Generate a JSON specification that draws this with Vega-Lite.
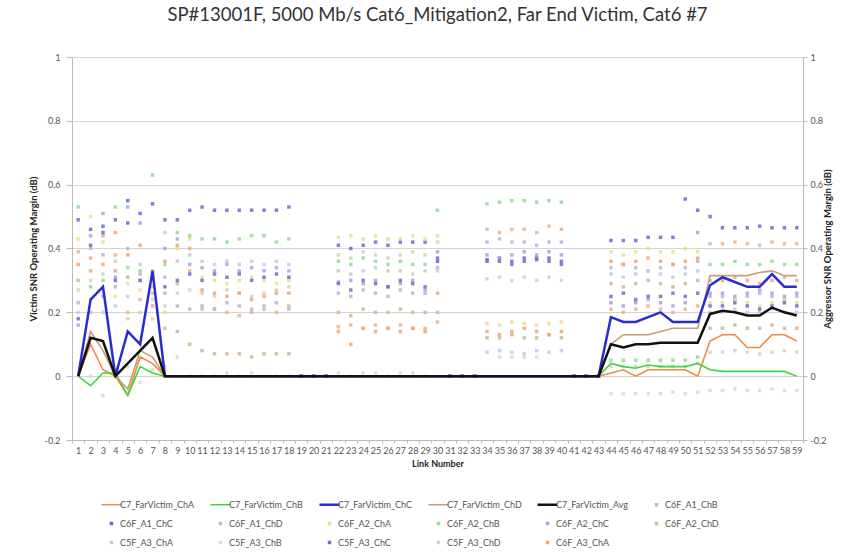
{
  "$schema": "https://vega.github.io/schema/vega-lite/v6.json",
  "width": 731,
  "height": 383,
  "autosize": {"type": "none"},
  "padding": {"left": 72, "top": 57, "right": 43, "bottom": 113},
  "background": "white",
  "config": {"view": {"stroke": null}},
  "title": {"text": "SP#13001F, 5000 Mb/s Cat6_Mitigation2, Far End Victim, Cat6 #7", "font": "Lato", "fontSize": 18.5, "fontWeight": "normal", "color": "#333333", "anchor": "middle", "frame": "group", "offset": 29},
  "data": {"values": [
      {"x":1,"A":0,"B":0,"C":0,"D":0,"G":0,"p1":0.23,"p2":0.49,"p3":0.30,"p4":0.43,"p5":0.53,"p6":0.16,"p7":0.39,"p8":0.20,"p10":0.18,"p11":0.27,"p12":0.35},
      {"x":2,"A":0.10,"B":-0.03,"C":0.24,"D":0.14,"G":0.12,"p1":0.40,"p2":0.46,"p3":0.33,"p4":0.50,"p5":0.28,"p6":0.44,"p7":0.20,"p8":0.24,"p9":0,"p10":0.41,"p11":0.30,"p12":0.37},
      {"x":3,"A":0.02,"B":0.01,"C":0.28,"D":0.08,"G":0.11,"p1":0.38,"p2":0.47,"p3":0.25,"p4":0.42,"p5":0.30,"p6":0.51,"p7":0.44,"p8":0.20,"p9":-0.06,"p10":0.45,"p11":0.32,"p12":0.35},
      {"x":4,"A":0,"B":0.01,"C":0,"D":0,"G":0,"p1":0.28,"p2":0.49,"p3":0.33,"p4":0.25,"p5":0.53,"p6":0.31,"p7":0.38,"p8":0.22,"p9":0.02,"p10":0.30,"p11":0.36,"p12":0.45},
      {"x":5,"A":-0.06,"B":-0.06,"C":0.14,"D":-0.04,"G":0.04,"p1":0.40,"p2":0.55,"p3":0.31,"p4":0.29,"p5":0.34,"p6":0.53,"p7":0.20,"p8":0.25,"p9":0.03,"p10":0.48,"p11":0.18,"p12":0.38},
      {"x":6,"A":0.06,"B":0.03,"C":0.10,"D":0.08,"G":0.08,"p1":0.32,"p2":0.51,"p3":0.30,"p4":0.27,"p5":0.33,"p6":0.48,"p7":0.24,"p8":0.35,"p9":-0.02,"p10":0.30,"p11":0.20,"p12":0.41},
      {"x":7,"A":0.04,"B":0.01,"C":0.33,"D":0.06,"G":0.12,"p1":0.30,"p2":0.54,"p3":0.33,"p4":0.18,"p5":0.63,"p6":0.31,"p7":0.26,"p8":0.28,"p9":0.02,"p10":0.32,"p11":0.24,"p12":0.22},
      {"x":8,"A":0,"B":0,"C":0,"D":0,"G":0,"p1":0.31,"p2":0.49,"p3":0.26,"p4":0.20,"p5":0.35,"p6":0.40,"p7":0.15,"p8":0.45,"p9":0.03,"p10":0.28,"p11":0.22,"p12":0.36},
      {"x":9,"A":0,"B":0,"C":0,"D":0,"G":0,"p1":0.22,"p2":0.49,"p3":0.14,"p4":0.40,"p5":0.45,"p6":0.43,"p7":0.29,"p8":0.36,"p9":0.06,"p10":0.30,"p11":0.26,"p12":0.41},
      {"x":10,"A":0,"B":0,"C":0,"D":0,"G":0,"p1":0.21,"p2":0.52,"p3":0.10,"p4":0.43,"p5":0.44,"p6":0.35,"p7":0.33,"p8":0.38,"p9":0,"p10":0.32,"p11":0.27,"p12":0.40},
      {"x":11,"A":0,"B":0,"C":0,"D":0,"G":0,"p1":0.22,"p2":0.53,"p3":0.08,"p4":0.31,"p5":0.43,"p6":0.34,"p7":0.21,"p8":0.36,"p9":0,"p10":0.30,"p11":0.26,"p12":0.27},
      {"x":12,"A":0,"B":0,"C":0,"D":0,"G":0,"p1":0.21,"p2":0.52,"p3":0.07,"p4":0.30,"p5":0.43,"p6":0.33,"p7":0.21,"p8":0.35,"p9":0,"p10":0.32,"p11":0.25,"p12":0.26},
      {"x":13,"A":0,"B":0,"C":0,"D":0,"G":0,"p1":0.23,"p2":0.52,"p3":0.07,"p4":0.29,"p5":0.42,"p6":0.35,"p7":0.20,"p8":0.36,"p9":0.01,"p10":0.31,"p11":0.27,"p12":0.25},
      {"x":14,"A":0,"B":0,"C":0,"D":0,"G":0,"p1":0.22,"p2":0.52,"p3":0.07,"p4":0.30,"p5":0.43,"p6":0.33,"p7":0.19,"p8":0.35,"p9":0,"p10":0.32,"p11":0.26,"p12":0.26},
      {"x":15,"A":0,"B":0,"C":0,"D":0,"G":0,"p1":0.21,"p2":0.52,"p3":0.06,"p4":0.31,"p5":0.44,"p6":0.34,"p7":0.20,"p8":0.36,"p9":0.01,"p10":0.30,"p11":0.25,"p12":0.24},
      {"x":16,"A":0,"B":0,"C":0,"D":0,"G":0,"p1":0.22,"p2":0.52,"p3":0.07,"p4":0.30,"p5":0.44,"p6":0.33,"p7":0.21,"p8":0.35,"p9":0,"p10":0.31,"p11":0.26,"p12":0.25},
      {"x":17,"A":0,"B":0,"C":0,"D":0,"G":0,"p1":0.23,"p2":0.52,"p3":0.07,"p4":0.29,"p5":0.42,"p6":0.34,"p7":0.20,"p8":0.36,"p9":0,"p10":0.32,"p11":0.27,"p12":0.26},
      {"x":18,"A":0,"B":0,"C":0,"D":0,"G":0,"p1":0.21,"p2":0.53,"p3":0.07,"p4":0.30,"p5":0.43,"p6":0.33,"p7":0.22,"p8":0.35,"p9":0,"p10":0.31,"p11":0.28,"p12":0.26},
      {"x":19,"A":0,"B":0,"C":0,"D":0,"G":0,"p1":0,"p2":0,"p3":0,"p6":0,"p10":0},
      {"x":20,"A":0,"B":0,"C":0,"D":0,"G":0,"p1":0,"p2":0,"p3":0,"p6":0,"p10":0},
      {"x":21,"A":0,"B":0,"C":0,"D":0,"G":0,"p1":0,"p2":0,"p3":0,"p6":0,"p10":0},
      {"x":22,"A":0,"B":0,"C":0,"D":0,"G":0,"p1":0.26,"p2":0.41,"p3":0.20,"p4":0.435,"p5":0.36,"p6":0.295,"p7":0.155,"p8":0.33,"p9":0.01,"p10":0.29,"p11":0.38,"p12":0.14},
      {"x":23,"A":0,"B":0,"C":0,"D":0,"G":0,"p1":0.25,"p2":0.40,"p3":0.19,"p4":0.44,"p5":0.35,"p6":0.30,"p7":0.16,"p8":0.32,"p9":0,"p10":0.27,"p11":0.37,"p12":0.10},
      {"x":24,"A":0,"B":0,"C":0,"D":0,"G":0,"p1":0.27,"p2":0.41,"p3":0.21,"p4":0.43,"p5":0.37,"p6":0.29,"p7":0.15,"p8":0.33,"p9":0.01,"p10":0.30,"p11":0.39,"p12":0.15},
      {"x":25,"A":0,"B":0,"C":0,"D":0,"G":0,"p1":0.26,"p2":0.42,"p3":0.20,"p4":0.44,"p5":0.36,"p6":0.30,"p7":0.16,"p8":0.34,"p9":0.01,"p10":0.29,"p11":0.38,"p12":0.14},
      {"x":26,"A":0,"B":0,"C":0,"D":0,"G":0,"p1":0.25,"p2":0.41,"p3":0.20,"p4":0.43,"p5":0.35,"p6":0.28,"p7":0.15,"p8":0.33,"p9":0,"p10":0.28,"p11":0.37,"p12":0.15},
      {"x":27,"A":0,"B":0,"C":0,"D":0,"G":0,"p1":0.27,"p2":0.42,"p3":0.21,"p4":0.43,"p5":0.36,"p6":0.29,"p7":0.16,"p8":0.33,"p9":0.01,"p10":0.30,"p11":0.38,"p12":0.14},
      {"x":28,"A":0,"B":0,"C":0,"D":0,"G":0,"p1":0.26,"p2":0.42,"p3":0.20,"p4":0.44,"p5":0.35,"p6":0.30,"p7":0.15,"p8":0.32,"p9":0.01,"p10":0.29,"p11":0.39,"p12":0.15},
      {"x":29,"A":0,"B":0,"C":0,"D":0,"G":0,"p1":0.26,"p2":0.42,"p3":0.20,"p4":0.43,"p5":0.35,"p6":0.27,"p7":0.15,"p8":0.33,"p9":0,"p10":0.28,"p11":0.38,"p12":0.14},
      {"x":30,"A":0,"B":0,"C":0,"D":0,"G":0,"p1":0.34,"p2":0.36,"p3":0.20,"p4":0.44,"p5":0.52,"p6":0.39,"p7":0.17,"p8":0.33,"p10":0.37,"p11":0.42,"p12":0.26},
      {"x":31,"A":0,"B":0,"C":0,"D":0,"G":0,"p1":0,"p2":0,"p3":0,"p6":0,"p10":0},
      {"x":32,"A":0,"B":0,"C":0,"D":0,"G":0,"p1":0,"p2":0,"p3":0,"p6":0,"p10":0},
      {"x":33,"A":0,"B":0,"C":0,"D":0,"G":0,"p1":0,"p2":0,"p3":0,"p6":0,"p10":0},
      {"x":34,"A":0,"B":0,"C":0,"D":0,"G":0,"p1":0.42,"p2":0.365,"p3":0.12,"p4":0.165,"p5":0.54,"p6":0.38,"p7":0.46,"p8":0.075,"p10":0.36,"p11":0.305,"p12":0.14},
      {"x":35,"A":0,"B":0,"C":0,"D":0,"G":0,"p1":0.43,"p2":0.37,"p3":0.12,"p4":0.16,"p5":0.545,"p6":0.37,"p7":0.45,"p8":0.08,"p9":0.06,"p10":0.36,"p11":0.31,"p12":0.13},
      {"x":36,"A":0,"B":0,"C":0,"D":0,"G":0,"p1":0.42,"p2":0.36,"p3":0.13,"p4":0.17,"p5":0.55,"p6":0.38,"p7":0.46,"p8":0.075,"p9":0.06,"p10":0.35,"p11":0.30,"p12":0.14},
      {"x":37,"A":0,"B":0,"C":0,"D":0,"G":0,"p1":0.42,"p2":0.37,"p3":0.12,"p4":0.165,"p5":0.55,"p6":0.39,"p7":0.46,"p8":0.07,"p9":0.06,"p10":0.36,"p11":0.31,"p12":0.15},
      {"x":38,"A":0,"B":0,"C":0,"D":0,"G":0,"p1":0.41,"p2":0.365,"p3":0.12,"p4":0.16,"p5":0.545,"p6":0.38,"p7":0.45,"p8":0.08,"p9":0.06,"p10":0.37,"p11":0.30,"p12":0.14},
      {"x":39,"A":0,"B":0,"C":0,"D":0,"G":0,"p1":0.42,"p2":0.37,"p3":0.13,"p4":0.165,"p5":0.55,"p6":0.39,"p7":0.47,"p8":0.075,"p10":0.36,"p11":0.31,"p12":0.13},
      {"x":40,"A":0,"B":0,"C":0,"D":0,"G":0,"p1":0.42,"p2":0.36,"p3":0.12,"p4":0.17,"p5":0.545,"p6":0.38,"p7":0.46,"p8":0.08,"p10":0.35,"p11":0.30,"p12":0.14},
      {"x":41,"A":0,"B":0,"C":0,"D":0,"G":0,"p1":0,"p2":0,"p3":0,"p6":0,"p10":0},
      {"x":42,"A":0,"B":0,"C":0,"D":0,"G":0,"p1":0,"p2":0,"p3":0,"p6":0,"p10":0},
      {"x":43,"A":0,"B":0,"C":0,"D":0,"G":0,"p1":0,"p2":0,"p3":0,"p6":0,"p10":0},
      {"x":44,"A":0.01,"B":0.04,"C":0.185,"D":0.10,"G":0.10,"p1":0.34,"p2":0.425,"p3":0.29,"p4":0.39,"p5":0.05,"p6":0.23,"p7":0.21,"p8":0.32,"p9":-0.055,"p10":0.25,"p11":0.03,"p12":0.36},
      {"x":45,"A":0.02,"B":0.03,"C":0.17,"D":0.13,"G":0.09,"p1":0.35,"p2":0.425,"p3":0.28,"p4":0.38,"p5":0.05,"p6":0.22,"p7":0.20,"p8":0.31,"p9":-0.055,"p10":0.26,"p11":0.03,"p12":0.35},
      {"x":46,"A":0,"B":0.025,"C":0.17,"D":0.13,"G":0.10,"p1":0.34,"p2":0.425,"p3":0.29,"p4":0.39,"p5":0.05,"p6":0.23,"p7":0.21,"p8":0.32,"p9":-0.055,"p10":0.24,"p11":0.03,"p12":0.36},
      {"x":47,"A":0.02,"B":0.035,"C":0.185,"D":0.13,"G":0.10,"p1":0.33,"p2":0.435,"p3":0.30,"p4":0.40,"p5":0.05,"p6":0.24,"p7":0.22,"p8":0.33,"p9":-0.055,"p10":0.25,"p11":0.03,"p12":0.37},
      {"x":48,"A":0.02,"B":0.03,"C":0.20,"D":0.14,"G":0.105,"p1":0.34,"p2":0.435,"p3":0.29,"p4":0.39,"p5":0.05,"p6":0.23,"p7":0.21,"p8":0.32,"p9":-0.055,"p10":0.25,"p11":0.03,"p12":0.36},
      {"x":49,"A":0.02,"B":0.03,"C":0.17,"D":0.15,"G":0.105,"p1":0.35,"p2":0.435,"p3":0.28,"p4":0.39,"p5":0.05,"p6":0.22,"p7":0.20,"p8":0.31,"p9":-0.05,"p10":0.26,"p11":0.03,"p12":0.35},
      {"x":50,"A":0.02,"B":0.03,"C":0.17,"D":0.15,"G":0.105,"p1":0.34,"p2":0.555,"p3":0.29,"p4":0.40,"p5":0.05,"p6":0.23,"p7":0.21,"p8":0.32,"p9":-0.055,"p10":0.25,"p11":0.03,"p12":0.36},
      {"x":51,"A":0,"B":0.04,"C":0.17,"D":0.15,"G":0.105,"p1":0.36,"p2":0.52,"p3":0.30,"p4":0.39,"p5":0.06,"p6":0.45,"p7":0.22,"p8":0.33,"p9":-0.05,"p10":0.26,"p11":0.04,"p12":0.37},
      {"x":52,"A":0.11,"B":0.02,"C":0.285,"D":0.315,"G":0.195,"p1":0.25,"p2":0.50,"p3":0.15,"p4":0.23,"p5":0.35,"p6":0.26,"p7":0.415,"p8":0.20,"p9":-0.045,"p10":0.22,"p11":0.075,"p12":0.30},
      {"x":53,"A":0.13,"B":0.015,"C":0.31,"D":0.315,"G":0.205,"p1":0.25,"p2":0.465,"p3":0.15,"p4":0.23,"p5":0.35,"p6":0.26,"p7":0.415,"p8":0.20,"p9":-0.045,"p10":0.22,"p11":0.075,"p12":0.30},
      {"x":54,"A":0.13,"B":0.015,"C":0.295,"D":0.315,"G":0.20,"p1":0.24,"p2":0.465,"p3":0.16,"p4":0.24,"p5":0.36,"p6":0.25,"p7":0.42,"p8":0.21,"p9":-0.04,"p10":0.23,"p11":0.08,"p12":0.31},
      {"x":55,"A":0.09,"B":0.015,"C":0.28,"D":0.315,"G":0.19,"p1":0.25,"p2":0.465,"p3":0.15,"p4":0.23,"p5":0.35,"p6":0.26,"p7":0.415,"p8":0.20,"p9":-0.045,"p10":0.22,"p11":0.075,"p12":0.30},
      {"x":56,"A":0.09,"B":0.015,"C":0.28,"D":0.325,"G":0.19,"p1":0.26,"p2":0.47,"p3":0.15,"p4":0.22,"p5":0.35,"p6":0.27,"p7":0.41,"p8":0.20,"p9":-0.045,"p10":0.21,"p11":0.07,"p12":0.29},
      {"x":57,"A":0.13,"B":0.015,"C":0.32,"D":0.33,"G":0.215,"p1":0.25,"p2":0.465,"p3":0.16,"p4":0.23,"p5":0.36,"p6":0.26,"p7":0.42,"p8":0.21,"p9":-0.04,"p10":0.22,"p11":0.075,"p12":0.30},
      {"x":58,"A":0.13,"B":0.015,"C":0.28,"D":0.315,"G":0.20,"p1":0.24,"p2":0.465,"p3":0.15,"p4":0.24,"p5":0.35,"p6":0.25,"p7":0.415,"p8":0.20,"p9":-0.045,"p10":0.23,"p11":0.08,"p12":0.31},
      {"x":59,"A":0.11,"B":0,"C":0.28,"D":0.315,"G":0.19,"p1":0.25,"p2":0.465,"p3":0.15,"p4":0.23,"p5":0.35,"p6":0.26,"p7":0.415,"p8":0.20,"p9":-0.045,"p10":0.22,"p11":0.075,"p12":0.30}
  ]},
  "transform": [
    {"fold": ["A","B","C","D","G","p1","p2","p3","p4","p5","p6","p7","p8","p9","p10","p11","p12"], "as": ["k","v"]},
    {"filter": "isValid(datum.v)"}
  ],
  "encoding": {
    "x": {"field": "x", "type": "ordinal", "scale": {"type": "band", "paddingInner": 0, "paddingOuter": 0},
      "axis": {"title": "Link Number", "titleFont": "Lato", "titleFontSize": 9, "titleFontWeight": "bold", "titleColor": "#222222", "titlePadding": 4,
        "labelAngle": 0, "labelFont": "Lato", "labelFontSize": 9, "labelColor": "#555555", "labelOverlap": false, "labelPadding": 3,
        "tickBand": "extent", "tickSize": 3, "tickColor": "#bbbbbb", "domainColor": "#bbbbbb", "grid": false}},
    "color": {"field": "k", "type": "nominal",
      "scale": {
        "domain": ["A","B","C","D","G","p1","p2","p3","p4","p5","p6","p7","p8","p9","p10","p11","p12"],
        "range": ["#ED8B46","#3ED63E","#2B2BD4","#C4A07A","#111111","#B6B6CF","#6A6AD0","#D2B48C","#E6E08A","#8FDB8F","#A3A3E6","#E8B48C","#C6CCD6","#C8E6C0","#7668C4","#D8D0BC","#F2A470"]
      },
      "legend": {"orient": "none", "legendX": 35, "legendY": 443, "direction": "horizontal", "columns": 6, "title": null,
        "labelExpr": "['C7_FarVictim_ChA','C7_FarVictim_ChB','C7_FarVictim_ChC','C7_FarVictim_ChD','C7_FarVictim_Avg','C6F_A1_ChB','C6F_A1_ChC','C6F_A1_ChD','C6F_A2_ChA','C6F_A2_ChB','C6F_A2_ChC','C6F_A2_ChD','C5F_A3_ChA','C5F_A3_ChB','C5F_A3_ChC','C5F_A3_ChD','C6F_A3_ChA'][indexof(['A','B','C','D','G','p1','p2','p3','p4','p5','p6','p7','p8','p9','p10','p11','p12'], datum.value)]",
        "labelFont": "Lato", "labelFontSize": 9, "labelColor": "#555555", "labelOffset": 4, "gridAlign": "all", "columnPadding": 10, "rowPadding": 9, "padding": 0,
        "symbolType": "square", "symbolSize": 400, "symbolOpacity": 1,
        "encode": {"symbols": {"update": {
          "shape": {"signal": "indexof(['A','B','C','D','G'], datum.value) >= 0 ? 'stroke' : 'square'"},
          "size": {"signal": "indexof(['A','B','C','D','G'], datum.value) >= 0 ? 400 : 12"},
          "strokeWidth": {"signal": "(datum.value == 'C' || datum.value == 'G') ? 2.5 : (indexof(['A','B','D'], datum.value) >= 0 ? 1.5 : 0)"},
          "stroke": {"signal": "scale('color', datum.value)"},
          "fill": {"signal": "indexof(['A','B','C','D','G'], datum.value) >= 0 ? 'transparent' : scale('color', datum.value)"}
        }}}
      }
    }
  },
  "layer": [
    {
      "transform": [{"filter": "indexof(['A','B','C','D','G'], datum.k) < 0"}],
      "mark": {"type": "square", "size": 12, "opacity": 0.85},
      "encoding": {
        "y": {"field": "v", "type": "quantitative", "scale": {"domain": [-0.2, 1], "nice": false, "zero": false},
          "axis": {"orient": "left", "values": [-0.2,0,0.2,0.4,0.6,0.8,1], "labelExpr": "'' + round(datum.value*10)/10",
            "title": "Victim SNR Operating Margin (dB)", "titleFont": "Lato", "titleFontSize": 9.5, "titleFontWeight": "bold", "titleColor": "#222222",
            "titleX": -39, "titleY": 191.5, "titleAngle": 270, "titleBaseline": "middle", "titleAlign": "center",
            "labelFont": "Lato", "labelFontSize": 9, "labelColor": "#555555", "labelPadding": 6, "tickSize": 6, "tickColor": "#bbbbbb", "domainColor": "#bbbbbb",
            "grid": true, "gridColor": "#d4d4d4", "gridWidth": 1}}
      }
    },
    {
      "transform": [{"filter": "indexof(['A','B','D'], datum.k) >= 0"}],
      "mark": {"type": "line", "strokeWidth": 1.6},
      "encoding": {
        "y": {"field": "v", "type": "quantitative",
          "axis": {"orient": "right", "values": [-0.2,0,0.2,0.4,0.6,0.8,1], "labelExpr": "'' + round(datum.value*10)/10",
            "title": "Aggressor SNR Operating Margin (dB)", "titleFont": "Lato", "titleFontSize": 9.5, "titleFontWeight": "bold", "titleColor": "#222222",
            "titleX": 24, "titleY": 191.5, "titleAngle": 270, "titleBaseline": "middle", "titleAlign": "center",
            "labelFont": "Lato", "labelFontSize": 9, "labelColor": "#555555", "labelPadding": 3, "tickSize": 4, "tickColor": "#bbbbbb", "domainColor": "#bbbbbb",
            "grid": false}}
      }
    },
    {
      "transform": [{"filter": "indexof(['C','G'], datum.k) >= 0"}],
      "mark": {"type": "line", "strokeWidth": 2.5},
      "encoding": {
        "y": {"field": "v", "type": "quantitative", "axis": null}
      }
    }
  ],
  "resolve": {"scale": {"y": "shared"}, "axis": {"y": "independent"}}
}
